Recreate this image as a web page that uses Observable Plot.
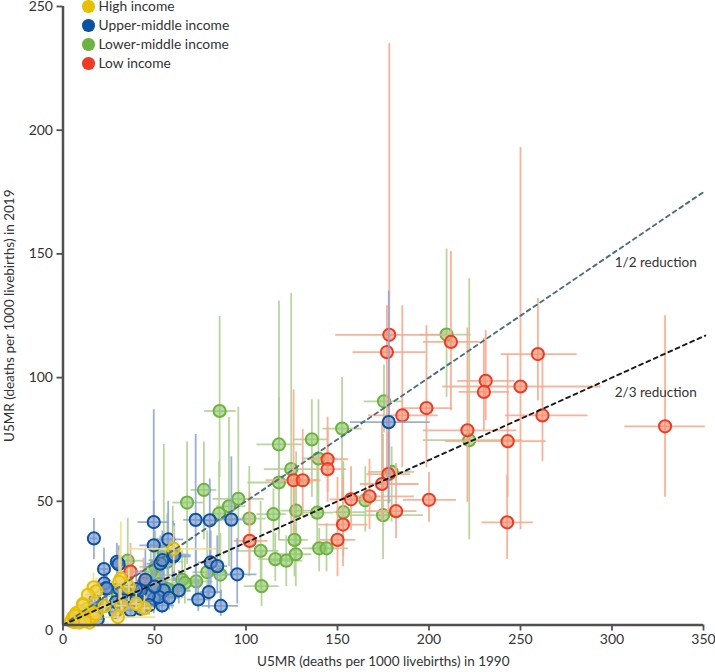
<!DOCTYPE html>
<html><head><meta charset="utf-8">
<style>
html,body{margin:0;padding:0;background:#fff}
#wrap{position:relative;width:715px;height:672px;overflow:hidden}
#legend{position:absolute;left:82px;top:0;font:13.8px Lato,sans-serif;color:#333}
#legend div{height:12px;line-height:12px;margin-bottom:7px;white-space:nowrap}
#legend i{display:inline-block;width:12.5px;height:12.5px;border-radius:50%;margin-right:4px;vertical-align:-1.5px}
</style>
<script src="https://cdn.jsdelivr.net/npm/d3@7"></script>
<script src="https://cdn.jsdelivr.net/npm/@observablehq/plot@0.6"></script>
</head><body><div id="wrap"><div id="legend"></div><div id="chart"></div></div>
<script>
// rows: [U5MR 1990, U5MR 2019, x low, x high, y low, y high]
const lowIncome = [
[329,80.3,307,351,51.6,125],[259.5,109.5,239.5,281,90.6,132],[250,96.4,207.6,294,38.5,193],[231,98.7,215.7,247,82.6,119],
[230,94.2,216.5,244,78.6,116],[262,84.7,241.7,287,66,110],[243,74.3,209,264,51.6,109],[221,78.7,197,248,49.6,120],
[242.7,41.5,229,257,26.5,60.6],[200,50.6,186,215,41.5,61.6],[212,114.4,197,228,86.6,151],[198.6,87.7,185,213,63.6,121],
[178.3,117.3,149,211,62.6,235],[177,110.3,158.5,198.5,59.6,129],[185.4,84.7,167,205,63.6,129],[144.6,67,135,156,53.6,84],
[144.6,63,136,155,49.6,80],[126,58.5,111,140,37,95],[131,58.5,121.6,141,43.6,79],[102,34,93.5,112,22,53.4],
[157.4,50.8,146,171,38.2,64],[167.5,52,158.8,192,38.6,67],[174.3,57,162.5,194.6,41.5,82],[177.8,61,166,190,45.6,78],
[182,46,166,193.4,35,65.3],[153,40.6,139.7,166.7,23.5,60.2],[150,34.4,140.7,160,19.5,59.6],[36.9,21.6,31,44,14,33],[44,16.7,38,53,10.5,27]
];
const lowerMiddle = [
[85.6,86.5,77.4,94.7,59.6,124.7],[118,73,106,130.7,34.2,131],[136,75,126,145,51.6,91],[152.5,79.4,142,163.4,50.3,100],
[175.4,90.4,164.6,186,77.6,105],[124.7,63,110,137,36.5,134],[139.6,67.3,131,150,43.6,91],[118,57.6,101,137,36.5,92],
[95.8,51,82,110,29.5,88],[90.7,48,84,100,23.5,84],[85.3,45,80,95,27.5,66],[77,54.6,70,84,34.5,74],[67.8,49.5,60,77,24.5,74],
[101.8,43,92,111,19.5,64],[115,44.8,106,122,29.5,55],[127.4,46.2,119,138,27.5,70],[138.9,45.4,130,148,29.5,65],
[153.2,45.6,148,166,27.5,66],[165.2,50.4,157,180,37.5,64],[179.6,61.9,167,192,41.6,72],[174.9,44.4,157,197,26.5,77],
[126.5,34.4,118,134,19.5,60],[108,30,95,118,14.5,50],[116,26.6,107,125,17.5,37],[122,26,114,131,15.5,36],[127.2,28.6,118,136,15.5,40],
[140,31,131,151,21.5,39],[144,31,135,156,21.5,41],[108.5,15.7,99,118,7.5,30],[86,20.4,78,96,8.5,37],[78.8,21.4,71,89,10.5,38],
[209.6,117.4,195,223,92,152],[222,74.7,197,251,34.5,140],[72.8,17.6,66,82,8.5,30],[65.1,18.3,57,76,10.5,30],[66.6,17,60,76,8.5,28],
[59.7,13.7,52,70,6.5,26],[35.4,26,29,44,15.5,43],[50.5,23.5,42,58,11.5,38],[51.6,20.2,44,60,10.5,35],[55.1,29.5,48,64,14.5,73],
[57,25.6,50,66,15.5,45],[60,28.6,52,69,17.5,48],[53,16.6,47,60,8.5,28],[45,14.6,38,53,7.5,25],[38,13.6,31,46,6.5,24],[30,11.6,24,38,5.5,22],[20,7.6,16,25,3.5,14],[57,14.6,50,65,8.5,24],[48,21.5,42,55,12,33]
];
const upperMiddle = [
[178,82,157,200.7,49,135],[16.9,35,15,19,26.5,43],[49.6,41.6,41,58,4.5,87],[72.5,42.5,66,79,11,77],[80.2,42.3,74,86,24.5,59],
[92,42.6,85,100,22,68],[95.2,20.5,88,106,8.5,35],[57.5,34.6,50,66,19.5,50],[49.6,32.2,42,60,15.5,50],[60.2,27.7,54,70,17.5,42],
[53.2,24.8,46,62,13.5,36],[54.3,26.2,47,62,14.5,38],[60.8,28.2,54,70,17.5,41],[29.4,25.5,26,33,17.5,33],[30.4,24.6,27,34,16.5,32],
[22.4,22.6,20,25,14.5,31],[22.5,16.8,20,26,11.5,23],[23.4,14.8,20,27,9.5,21],[24,14.8,21,27,9.5,21],[80.7,25.3,74,88,13.5,38],[84.3,23.8,78,90,12.5,36],
[79.7,13.3,75,87,6.5,24],[73.9,10.3,68,81,5.5,18],[86.3,7.7,76,96,3.5,14],[63.3,14,57,70,8.5,22],[55,14,50,63,8.5,22],
[54.2,7.9,48,61,4.5,14],[49.8,10.6,43,55,6.5,19],[52.4,11.3,47,60,5.5,18],[46.9,11.9,40,51,7.5,20],[39.8,10,35,45,5.5,17],
[42.5,14,37,48,8.5,22],[30.7,14.7,27,35,9.5,22],[28.5,5.3,25,32,2.5,10],[36.9,5.9,32,41,3.5,11],[28.9,9.3,25,33,5.5,15],
[21.8,7.8,19,25,3.5,11],[17.3,9.8,15,20,5.5,13],[19,2.4,16,22,1.2,6],[14,2.5,12,17,1.5,5],[45,18.3,41,52,11.5,31],[40,14.5,36,45,8.5,22],[34,13.5,30,38,8.5,21],[50,15.5,44,56,9.5,25],[42.3,6.6,38,47,3.5,10],[58,11,52,64,6,17],[47,8,42,53,4,13],[33,10,29,38,6,15]
];
const highIncome = [
[60.5,30.8,36.7,84,21.5,40],[31.6,18.7,28,35,8.5,41.6],[30.7,17.4,26,36,9.5,30],[16.7,15.2,15,20,9,21],[18.2,13.6,16,22,8.5,19],[13.6,12.2,12,16,7.5,16],
[10.9,8.5,10,13,4.5,11],[44.5,6.8,38,50,3.5,12],[31.8,7.8,28,36,4.5,12],[22.7,7.6,20,26,4.5,11],[30,3.2,22.5,50.7,1.5,6],[36,15.5,32,40,9.5,23],[40,8.5,36,44,5.5,13],
[4.5,1.6,4,6,1,2.5],[5.5,3,4.5,7,1.5,4],[6,1.2,5,7,0.6,2],[6.5,2,5,8,1,3],[7,1.7,6,8,1,2.5],[7.3,4.8,6,9,3,6],[7.5,2,6,9,1.5,3],[8,2.3,7,9,1.5,3.5],[8,3.2,7,9,1.5,4.5],[8.5,1.5,7,10,0.6,2.5],[9,2.5,8,10,1.5,3.5],[9.5,3.3,8,11,2.5,4.5],
[10,2,9,11,1.5,2.5],[10,4,9,11,2.5,5.5],[11,2.8,10,12,1.5,3.5],[11,4.5,10,12,3.5,5.5],[12,3,11,13,2.5,3.5],[12,5.7,11,14,3.5,7.5],[13,3.5,12,14,2.5,4.5],[13,6.5,12,15,4.5,8.5],
[14,2,13,15,1.5,2.5],[14,4.5,13,15,3.5,5.5],[14.5,1,13,16,0.5,2],[15,2.5,14,17,1.5,3.5],[15,5.5,14,17,3.5,7.5],[16,3.5,15,18,2.5,4.5],[18,4.5,16,20,2.5,6.5],[9,5.5,8,10,3.5,7.5],[11,8,10,12,5.5,10.5],[6.5,3.8,5.5,8,2.5,5],[9,1,8,10,0.5,2],[12,1.5,11,13,0.8,2.5]
];
const groups = [
  {name:"Lower-middle income", rows:lowerMiddle, color:"#6db33f", tint:"#b0d293", fill:"#8cc568"},
  {name:"Low income", rows:lowIncome, color:"#ef3a25", tint:"#fba88f", fill:"#f48a68"},
  {name:"Upper-middle income", rows:upperMiddle, color:"#0b52a0", tint:"#8fa6d6", fill:"#6f8fc8"},
  {name:"High income", rows:highIncome, color:"#e6bf00", tint:"#f4dd8e", fill:"#efd25a"}
];
const legendOrder = ["High income","Upper-middle income","Lower-middle income","Low income"];
const reductionLines = [{label:"1/2 reduction",share:1/2,color:"#4f6f7c"},{label:"2/3 reduction",share:1/3,color:"#1a1a1a"}];
const reductionEnds = [0,351];
const reductionLabels = [{label:"1/2 reduction",x:301.5,y:146.6},{label:"2/3 reduction",x:301.5,y:94}];
const xTicks = [0,50,100,150,200,250,300,350];
const yTicks = [50,100,150,200,250];
const font = 'Lato,sans-serif';
const axisColor = "#505050";
const textColor = "#333";

const groupMarks = g => [
  Plot.ruleY(g.rows,{y:d=>d[1],x1:d=>d[2],x2:d=>d[3],stroke:g.tint,strokeWidth:1.8,strokeOpacity:.9}),
  Plot.ruleX(g.rows,{x:d=>d[0],y1:d=>d[4],y2:d=>d[5],stroke:g.tint,strokeWidth:1.8,strokeOpacity:.9}),
  Plot.dot(g.rows,{x:d=>d[0],y:d=>d[1],r:6.1,fill:g.fill,fillOpacity:.6,stroke:g.color,strokeWidth:2})
];
const chart = Plot.plot({
  width:715,height:672,marginLeft:62.5,marginRight:12,marginTop:6,marginBottom:47.5,
  style:{fontFamily:font,fontSize:"14px",color:textColor,background:"#fff",overflow:"visible"},
  x:{domain:[0,350]},y:{domain:[0,250]},
  marks:[
    ...groups.flatMap(groupMarks),
    ...reductionLines.map(l=>Plot.line(reductionEnds,{x:d=>d,y:d=>d*l.share,stroke:l.color,strokeWidth:1.9,strokeDasharray:"4,4"})),
    Plot.text(reductionLabels,{x:"x",y:"y",text:"label",textAnchor:"start",fill:textColor,fontSize:13.5}),
    Plot.axisX({ticks:xTicks,tickSize:6,tickPadding:3,stroke:axisColor,strokeWidth:1.8,fill:textColor,fontSize:14,label:null}),
    Plot.axisX({ticks:[],label:"U5MR (deaths per 1000 livebirths) in 1990",labelAnchor:"center",labelArrow:"none",labelOffset:41,fill:textColor,fontSize:13.5}),
    Plot.axisY({ticks:yTicks,tickSize:6,tickPadding:4,stroke:axisColor,strokeWidth:1.8,fill:textColor,fontSize:14,label:null}),
    Plot.axisY({ticks:[],label:"U5MR (deaths per 1000 livebirths) in 2019",labelAnchor:"center",labelArrow:"none",labelOffset:59,fill:textColor,fontSize:13.5}),
    Plot.text([0],{x:d=>d,y:d=>d,text:d=>String(d),dx:-10,dy:5.5,textAnchor:"end",fill:textColor,fontSize:14}),
    Plot.ruleX([0],{stroke:axisColor,strokeWidth:2.5}),
    Plot.ruleY([0],{stroke:axisColor,strokeWidth:2.5})
  ]
});
document.getElementById("chart").appendChild(chart);
const legend = document.getElementById("legend");
legendOrder.forEach(n=>{
  const g = groups.find(x=>x.name===n);
  const row = document.createElement("div");
  row.innerHTML = `<i style="background:${g.color}"></i>${n}`;
  legend.appendChild(row);
});
</script></body></html>
